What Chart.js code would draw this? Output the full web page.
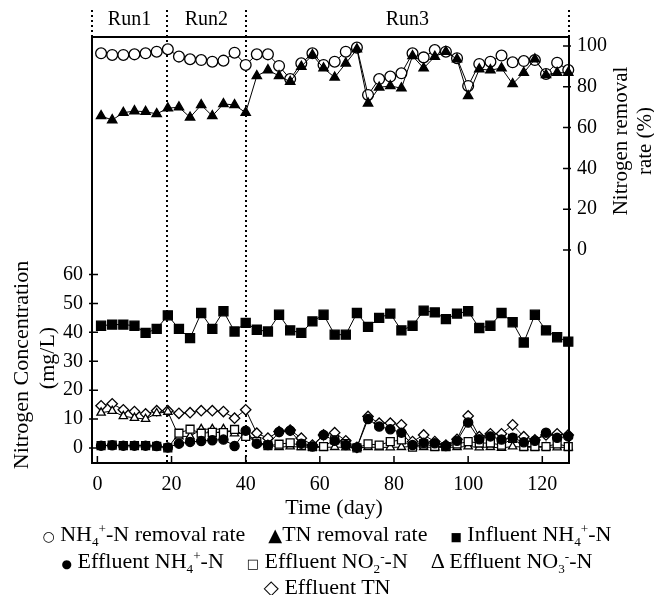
<!DOCTYPE html>
<html>
<head>
<meta charset="utf-8">
<script src="https://cdn.jsdelivr.net/npm/chart.js@4.4.1/dist/chart.umd.min.js"></script>
<style>
  html, body { margin: 0; padding: 0; background: #fff; }
  #wrap { position: relative; width: 654px; height: 595px; font-family: "Liberation Serif", "Times New Roman", serif; color: #000; }
  #legend { position: absolute; left: 0; top: 522px; width: 654px; text-align: center; font-size: 22px; line-height: 24px; white-space: nowrap; }
  #legend > div:nth-child(3) { margin-top: -1px; }
  #legend sub, #legend sup { font-size: 0.6em; line-height: 0; }
  #legend .sym { font-family: "DejaVu Sans", sans-serif; font-size: 14px; }
  #legend .gap { display: inline-block; width: 23px; }
</style>
</head>
<body>
<div id="wrap">
  <canvas id="chart" width="654" height="595"></canvas>
  <div id="legend">
    <div><span class="sym">○</span> NH<sub>4</sub><sup>+</sup>-N removal rate<span class="gap"></span><span class="sym" style="font-size:18px">▲</span>TN removal rate<span class="gap"></span><span class="sym" style="font-size:12px">■</span> Influent NH<sub>4</sub><sup>+</sup>-N</div>
    <div><span class="sym" style="font-size:12px">●</span> Effluent NH<sub>4</sub><sup>+</sup>-N<span class="gap"></span><span class="sym" style="font-size:13px">□</span> Effluent NO<sub>2</sub><sup>-</sup>-N<span class="gap"></span>Δ Effluent NO<sub>3</sub><sup>-</sup>-N</div>
    <div><span class="sym" style="font-size:20px">◇</span> Effluent TN</div>
  </div>
</div>
<script>
// sampling days (every 3 days)
const days = [1, 4, 7, 10, 13, 16, 19, 22, 25, 28, 31, 34, 37, 40, 43, 46, 49, 52, 55, 58, 61,
  64, 67, 70, 73, 76, 79, 82, 85, 88, 91, 94, 97, 100, 103, 106, 109, 112, 115, 118, 121, 124, 127];

// removal rates (%), right axis
const nh4Removal = [96.4, 95.6, 95.6, 95.9, 96.4, 97.2, 98.4, 94.8, 93.5, 93.1, 92.3, 92.8, 96.7, 90.7,
  95.9, 95.9, 90.2, 83.8, 91.5, 96.4, 90.7,
  92.3, 97.2, 99.2, 76.0, 83.8, 85.0, 86.6, 96.4, 94.4, 98.0, 97.2, 94.0, 80.4, 91.2, 92.3, 95.3, 92.0, 92.6, 93.1, 86.3, 91.8, 88.2];
const tnRemoval = [65.7, 63.7, 67.3, 68.1, 67.8, 66.7, 69.5, 70.0, 65.0, 71.1, 65.7, 71.6, 71.1, 67.3,
  85.3, 88.2, 85.3, 82.5, 89.9, 95.6, 89.1,
  84.6, 91.5, 98.4, 71.9, 79.7, 80.4, 79.3, 95.1, 89.1, 94.8, 97.2, 93.5, 75.5, 88.6, 88.2, 89.1, 81.4, 86.9, 93.5, 85.8, 86.9, 86.9];

// concentrations (mg/L), left axis
const influentNH4 = [42.3, 42.7, 42.7, 42.3, 39.8, 41.2, 45.9, 41.2, 38.0, 46.7, 41.2, 47.3, 40.3, 43.3,
  40.9, 40.3, 46.1, 40.7, 39.8, 43.8, 46.1,
  39.2, 39.2, 46.7, 41.9, 45.0, 46.5, 40.7, 42.3, 47.5, 46.9, 44.6, 46.5, 47.3, 41.5, 42.3, 46.7, 43.5, 36.5, 46.1, 40.7, 38.3, 36.8];
const effluentNH4 = [0.8, 0.9, 0.8, 0.8, 0.8, 0.7, 0.2, 1.5, 2.1, 2.4, 2.7, 2.9, 0.7, 6.0,
  1.5, 1.0, 5.5, 6.0, 1.5, 0.5, 4.5,
  2.5, 1.0, 0.2, 10.0, 7.4, 6.5, 5.3, 1.0, 1.8, 1.6, 0.7, 2.5, 8.8, 3.0, 4.0, 2.9, 3.5, 2.0, 2.5, 5.3, 3.5, 4.0];
const effluentNO2 = [0.8, 1.0, 0.8, 0.8, 0.8, 0.6, 0.0, 5.1, 6.5, 5.1, 5.4, 5.3, 6.4, 4.0,
  2.2, 0.8, 1.3, 1.8, 0.8, 0.5, 0.5,
  2.8, 1.5, 0.0, 1.4, 1.0, 2.2, 2.8, 0.3, 1.4, 0.5, 0.5, 1.4, 2.2, 1.7, 1.7, 1.0, 3.3, 0.5, 0.5, 0.5, 1.4, 0.5];
const effluentNO3 = [12.2, 12.8, 11.0, 10.4, 10.0, 12.0, 12.5, 4.0, 4.0, 6.5, 6.5, 6.5, 5.0, 5.0,
  2.0, 1.0, 0.3, 0.5, 0.3, 0.2, 0.2,
  0.3, 0.2, 0.0, 0.3, 0.2, 0.2, 0.3, 0.5, 0.3, 0.2, 0.2, 0.3, 0.5, 0.2, 0.3, 0.0, 0.5, 0.3, 0.2, 0.3, 0.2, 0.2];
const effluentTN = [14.6, 15.3, 13.2, 12.6, 11.8, 12.9, 12.9, 12.0, 12.2, 12.9, 12.9, 12.6, 10.3, 13.2,
  5.1, 3.4, 5.7, 6.2, 3.4, 1.0, 4.5,
  5.3, 2.5, 0.2, 10.9, 8.6, 8.6, 8.0, 2.2, 4.5, 2.2, 1.0, 3.0, 11.1, 3.9, 4.9, 4.9, 8.0, 3.9, 2.8, 4.5, 4.9, 4.5];

// axes
const xTicks = [0, 20, 40, 60, 80, 100, 120];
const concTicks = [0, 10, 20, 30, 40, 50, 60];
const rateTicks = [0, 20, 40, 60, 80, 100];
const runNames = ['Run1', 'Run2', 'Run3'];
const runBounds = [18.8, 40];

const FONT = '"Liberation Serif", "Times New Roman", serif';

function pts(vals) {
  return days.map((d, i) => ({ x: d, y: vals[i] }));
}

function series(vals, axis, style, order) {
  return Object.assign({
    data: pts(vals),
    yAxisID: axis,
    borderColor: '#000',
    borderWidth: 1,
    pointBorderColor: '#000',
    pointBorderWidth: 1.3,
    pointHoverRadius: 0,
    tension: 0,
    clip: false,
    order: order
  }, style);
}

const decorations = {
  id: 'decorations',
  beforeDatasetsDraw(chart) {
    const { ctx, chartArea: a, scales } = chart;
    ctx.save();
    ctx.strokeStyle = '#000';
    ctx.lineWidth = 2;
    ctx.setLineDash([2, 3]);
    // run boundaries
    runBounds.forEach(d => {
      const px = Math.round(scales.x.getPixelForValue(d));
      ctx.beginPath();
      ctx.moveTo(px, 10);
      ctx.lineTo(px, a.bottom);
      ctx.stroke();
    });
    // extensions above the frame
    [a.left, a.right].forEach(px => {
      ctx.beginPath();
      ctx.moveTo(px, 10);
      ctx.lineTo(px, a.top);
      ctx.stroke();
    });
    ctx.restore();
  },
  afterDatasetsDraw(chart) {
    const { ctx, chartArea: a, scales } = chart;
    ctx.save();
    ctx.strokeStyle = '#000';
    ctx.lineWidth = 2;
    ctx.strokeRect(a.left, a.top, a.right - a.left, a.bottom - a.top);

    // inward tick marks
    ctx.lineWidth = 1.5;
    ctx.beginPath();
    scales.x.ticks.forEach(t => {
      const px = scales.x.getPixelForValue(t.value);
      ctx.moveTo(px, a.bottom);
      ctx.lineTo(px, a.bottom - 7);
    });
    scales.y.ticks.forEach(t => {
      const py = scales.y.getPixelForValue(t.value);
      ctx.moveTo(a.left - 3, py);
      ctx.lineTo(a.left + 6, py);
    });
    scales.y1.ticks.forEach(t => {
      const py = scales.y1.getPixelForValue(t.value);
      ctx.moveTo(a.right + 2, py);
      ctx.lineTo(a.right - 6, py);
    });
    ctx.stroke();

    // run labels
    ctx.fillStyle = '#000';
    ctx.font = '20px ' + FONT;
    ctx.textAlign = 'center';
    ctx.textBaseline = 'middle';
    const edges = [a.left].concat(runBounds.map(d => scales.x.getPixelForValue(d)), [a.right]);
    runNames.forEach((name, i) => {
      ctx.fillText(name, (edges[i] + edges[i + 1]) / 2, 20);
    });

    // axis titles
    ctx.font = '22px ' + FONT;
    ctx.fillText('Time (day)', 334, 508);
    const vtext = (txt, x, y) => {
      ctx.save();
      ctx.translate(x, y);
      ctx.rotate(-Math.PI / 2);
      ctx.fillText(txt, 0, 0);
      ctx.restore();
    };
    vtext('Nitrogen Concentration', 22, 365);
    vtext('(mg/L)', 48, 358);
    ctx.font = '21px ' + FONT;
    vtext('Nitrogen removal', 621, 141);
    vtext('rate (%)', 645, 141);
    ctx.restore();
  }
};

const tickFont = { family: FONT, size: 20 };

new Chart(document.getElementById('chart'), {
  type: 'line',
  data: {
    datasets: [
      series(nh4Removal, 'y1', { pointStyle: 'circle', pointRadius: 5.4, pointBackgroundColor: '#fff' }, 2),
      series(tnRemoval, 'y1', { pointStyle: 'triangle', pointRadius: 5.4, pointBackgroundColor: '#000' }, 1),
      series(influentNH4, 'y', { pointStyle: 'rect', pointRadius: 6.4, pointBackgroundColor: '#000' }, 1),
      series(effluentTN, 'y', { pointStyle: 'rectRot', pointRadius: 5.2, pointBackgroundColor: '#fff' }, 6),
      series(effluentNO3, 'y', { pointStyle: 'triangle', pointRadius: 4.8, pointBackgroundColor: '#fff' }, 5),
      series(effluentNO2, 'y', { pointStyle: 'rect', pointRadius: 5.6, pointBackgroundColor: '#fff' }, 4),
      series(effluentNH4, 'y', { pointStyle: 'circle', pointRadius: 4.6, pointBackgroundColor: '#000' }, 3)
    ]
  },
  options: {
    responsive: false,
    animation: false,
    events: [],
    layout: { padding: { top: 37, left: 0, right: 0, bottom: 0 } },
    plugins: {
      legend: { display: false },
      title: { display: false },
      tooltip: { enabled: false }
    },
    scales: {
      x: {
        type: 'linear',
        min: -1.45,
        max: 127.2,
        grid: { display: false, drawTicks: false },
        border: { display: false },
        afterBuildTicks: s => { s.ticks = xTicks.map(v => ({ value: v })); },
        afterFit: s => { s.height = 132; },
        ticks: { font: tickFont, color: '#000', padding: 10, maxRotation: 0, autoSkip: false }
      },
      y: {
        type: 'linear',
        position: 'left',
        min: -5.2,
        max: 142.2,
        grid: { display: false, drawTicks: false },
        border: { display: false },
        afterBuildTicks: s => { s.ticks = concTicks.map(v => ({ value: v })); },
        afterFit: s => { s.width = 92; },
        ticks: { font: tickFont, color: '#000', padding: 9, autoSkip: false }
      },
      y1: {
        type: 'linear',
        position: 'right',
        min: -104.4,
        max: 104.4,
        grid: { display: false, drawTicks: false },
        border: { display: false },
        afterBuildTicks: s => { s.ticks = rateTicks.map(v => ({ value: v })); },
        afterFit: s => { s.width = 85; },
        ticks: { font: tickFont, color: '#000', padding: 8, autoSkip: false }
      }
    }
  },
  plugins: [decorations]
});
</script>
</body>
</html>
